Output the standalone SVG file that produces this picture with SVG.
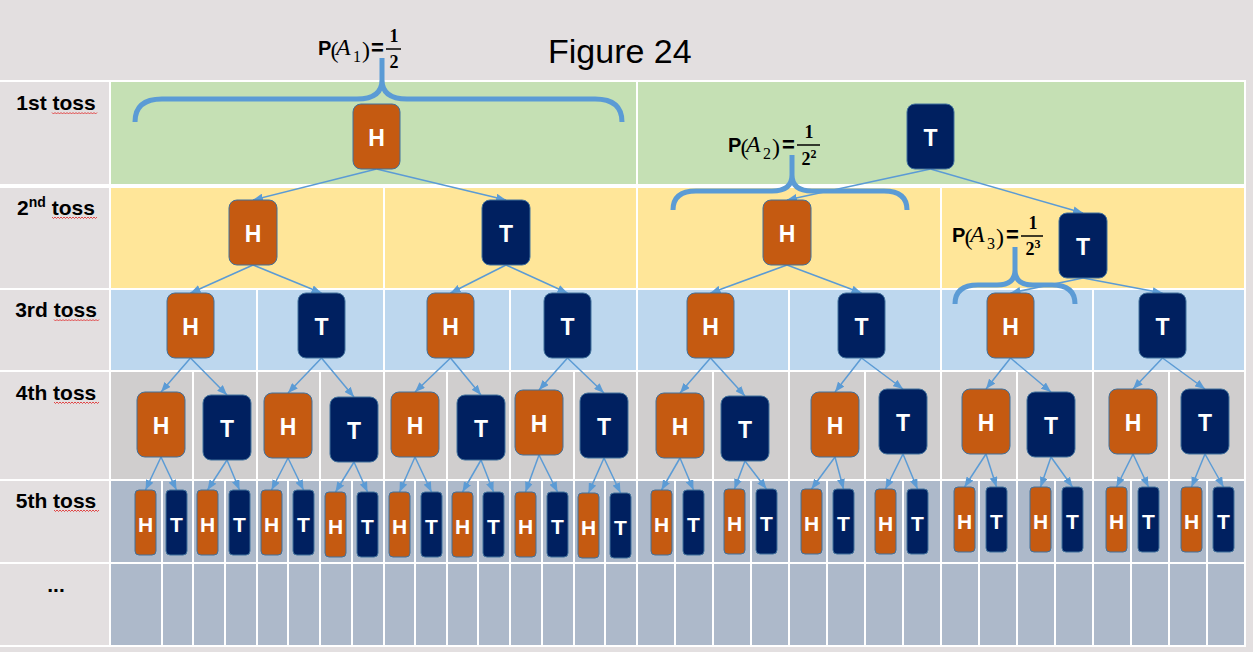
<svg xmlns="http://www.w3.org/2000/svg" xmlns:xlink="http://www.w3.org/1999/xlink" width="1253" height="652" viewBox="0 0 1253 652">
<defs>
<style>
.h{fill:#C55A11;stroke:#41719C;stroke-width:1}
.t{fill:#002060;stroke:#41719C;stroke-width:1}
.nl{font-family:"Liberation Sans",Arial,sans-serif;font-weight:bold;font-size:23px;fill:#fff;text-anchor:middle}
.nl5{font-family:"Liberation Sans",Arial,sans-serif;font-weight:bold;font-size:21px;fill:#fff;text-anchor:middle}
.lbl{font-family:"Liberation Sans",Arial,sans-serif;font-weight:bold;font-size:21px;fill:#000;text-anchor:middle}
.title{font-family:"Liberation Sans",Arial,sans-serif;font-size:34px;fill:#000}
.conn line{stroke:#5B9BD5;stroke-width:1.5;marker-end:url(#ah)}
.brace{fill:none;stroke:#5B9BD5;stroke-width:5}
.fp{font-family:"Liberation Sans",Arial,sans-serif;font-weight:bold;font-size:20px;fill:#000}
.fe{font-family:"Liberation Sans",Arial,sans-serif;font-weight:bold;font-size:22px;fill:#000}
.fs{font-family:"Liberation Serif","Times New Roman",serif;font-size:24px;fill:#000}
.fa{font-family:"Liberation Serif","Times New Roman",serif;font-style:italic;font-size:24px;fill:#000}
.fsub{font-family:"Liberation Serif","Times New Roman",serif;font-size:16px;fill:#000}
.fn{font-family:"Liberation Serif","Times New Roman",serif;font-weight:bold;font-size:18px;fill:#000;text-anchor:middle}
.grid{stroke:#fff;stroke-width:2;fill:none}
.sq{stroke:#E02020;stroke-width:0.8;fill:none}
</style>
<marker id="ah" markerUnits="userSpaceOnUse" markerWidth="10" markerHeight="8" refX="10" refY="4" orient="auto">
<path d="M0,0 L10,4 L0,8 z" fill="#5B9BD5"/>
</marker>
<path id="sq" class="sq" d="M0,0 l1.5,1.5 l1.5,-1.5 l1.5,1.5 l1.5,-1.5 l1.5,1.5 l1.5,-1.5 l1.5,1.5 l1.5,-1.5 l1.5,1.5 l1.5,-1.5 l1.5,1.5 l1.5,-1.5 l1.5,1.5 l1.5,-1.5 l1.5,1.5 l1.5,-1.5 l1.5,1.5 l1.5,-1.5 l1.5,1.5 l1.5,-1.5 l1.5,1.5 l1.5,-1.5 l1.5,1.5 l1.5,-1.5 l1.5,1.5 l1.5,-1.5 l1.5,1.5 l1.5,-1.5 l1.5,1.5 l1.5,-1.5"/>
</defs>

<!-- background and table -->
<g id="table">
<rect x="0" y="0" width="1253" height="652" fill="#E3DFE0"/>
<rect x="0" y="80" width="1246" height="567" fill="#FFFFFF"/>
<rect x="0" y="82" width="109" height="102" fill="#E3DFE0"/>
<rect x="0" y="188" width="109" height="100" fill="#E3DFE0"/>
<rect x="0" y="290" width="109" height="80" fill="#E3DFE0"/>
<rect x="0" y="372" width="109" height="107" fill="#E3DFE0"/>
<rect x="0" y="481" width="109" height="81" fill="#E3DFE0"/>
<rect x="0" y="564" width="109" height="81" fill="#E3DFE0"/>
<rect x="111" y="82" width="1133" height="102" fill="#C5E0B4"/>
<rect x="111" y="188" width="1133" height="100" fill="#FFE699"/>
<rect x="111" y="290" width="1133" height="80" fill="#BDD7EE"/>
<rect x="111" y="372" width="1133" height="107" fill="#D0CECE"/>
<rect x="111" y="481" width="1133" height="81" fill="#ADB9CA"/>
<rect x="111" y="564" width="1133" height="81" fill="#ADB9CA"/>
<path class="grid" d="M637,82V184 M384,188V288 M637,188V288 M941,188V288
M257,290V370 M384,290V370 M510,290V370 M637,290V370 M789,290V370 M941,290V370 M1093,290V370
M193,372V479 M257,372V479 M320,372V479 M384,372V479 M447,372V479 M510,372V479 M574,372V479 M637,372V479 M713,372V479 M789,372V479 M865,372V479 M941,372V479 M1017,372V479 M1093,372V479 M1169,372V479
M162,481V645 M193,481V645 M225,481V645 M257,481V645 M288,481V645 M320,481V645 M352,481V645 M384,481V645 M415,481V645 M447,481V645 M478,481V645 M510,481V645 M542,481V645 M574,481V645 M605,481V645 M637,481V645 M675,481V645 M713,481V645 M751,481V645 M789,481V645 M827,481V645 M865,481V645 M903,481V645 M941,481V645 M979,481V645 M1017,481V645 M1055,481V645 M1093,481V645 M1131,481V645 M1169,481V645 M1207,481V645"/>
</g>

<!-- row labels -->
<g id="labels">
<text class="lbl" x="56" y="110">1st toss</text>
<text class="lbl" x="56" y="215">2<tspan font-size="14" dy="-8">nd</tspan><tspan dy="8"> toss</tspan></text>
<text class="lbl" x="56" y="317">3rd toss</text>
<text class="lbl" x="56" y="400">4th toss</text>
<text class="lbl" x="56" y="508">5th toss</text>
<text class="lbl" x="56" y="592">...</text>
<use xlink:href="#sq" x="52" y="112.5"/>
<use xlink:href="#sq" x="52" y="217"/>
<use xlink:href="#sq" x="54" y="319.5"/>
<use xlink:href="#sq" x="54" y="402"/>
<use xlink:href="#sq" x="54" y="510"/>
</g>

<text id="title" class="title" x="548" y="63">Figure 24</text>

<!-- braces -->
<g id="braces">
<path class="brace" d="M135,122 Q135,99 162,99 L357,99 Q382,99 382,80 L382,58 M382,80 Q382,99 407,99 L595,99 Q622,99 622,122"/>
<path class="brace" d="M673,210 Q673,191 696,191 L772,191 Q792,191 792,175 L792,155 M792,175 Q792,191 812,191 L884,191 Q907,191 907,210"/>
<path class="brace" d="M955,304 Q955,285 978,285 L997,285 Q1015,285 1015,270 L1015,247 M1015,270 Q1015,285 1033,285 L1052,285 Q1075,285 1075,304"/>
</g>

<!-- probability formulas -->
<g id="pA1" transform="translate(318,55)">
<text class="fp" x="0" y="0">P</text>
<text class="fs" x="12.5" y="3">(</text>
<text class="fa" x="18" y="0">A</text>
<text class="fsub" x="35" y="7">1</text>
<text class="fs" x="44" y="3">)</text>
<text class="fe" x="53" y="0">=</text>
<text class="fn" x="76" y="-13">1</text>
<line x1="68" y1="-6" x2="83" y2="-6" stroke="#000" stroke-width="1.5"/>
<text class="fn" x="76" y="13">2</text>
</g>
<g id="pA2" transform="translate(728,152)">
<text class="fp" x="0" y="0">P</text>
<text class="fs" x="12.5" y="3">(</text>
<text class="fa" x="18" y="0">A</text>
<text class="fsub" x="35" y="7">2</text>
<text class="fs" x="44" y="3">)</text>
<text class="fe" x="54" y="0">=</text>
<text class="fn" x="81" y="-14">1</text>
<line x1="69" y1="-7" x2="92" y2="-7" stroke="#000" stroke-width="1.5"/>
<text class="fn" x="81" y="13">2<tspan font-size="12" dy="-7">2</tspan></text>
</g>
<g id="pA3" transform="translate(952,242)">
<text class="fp" x="0" y="0">P</text>
<text class="fs" x="12.5" y="3">(</text>
<text class="fa" x="18" y="0">A</text>
<text class="fsub" x="35" y="7">3</text>
<text class="fs" x="44" y="3">)</text>
<text class="fe" x="54" y="0">=</text>
<text class="fn" x="81" y="-13">1</text>
<line x1="69" y1="-6" x2="91" y2="-6" stroke="#000" stroke-width="1.5"/>
<text class="fn" x="81" y="13">2<tspan font-size="12" dy="-7">3</tspan></text>
</g>

<!-- connectors -->
<g id="connectors" class="conn">
<line x1="376.5" y1="169" x2="253" y2="200"/>
<line x1="376.5" y1="169" x2="506" y2="200"/>
<line x1="930.5" y1="169" x2="787" y2="200"/>
<line x1="930.5" y1="169" x2="1083" y2="213"/>
<line x1="253" y1="265" x2="190.5" y2="293"/>
<line x1="253" y1="265" x2="321.5" y2="293"/>
<line x1="506" y1="265" x2="450.5" y2="293"/>
<line x1="506" y1="265" x2="567.5" y2="293"/>
<line x1="787" y1="265" x2="710.5" y2="293"/>
<line x1="787" y1="265" x2="861.5" y2="293"/>
<line x1="1083" y1="278" x2="1010.5" y2="293"/>
<line x1="1083" y1="278" x2="1162.5" y2="293"/>
<line x1="190.5" y1="358" x2="161" y2="392"/>
<line x1="190.5" y1="358" x2="227" y2="395"/>
<line x1="321.5" y1="358" x2="288" y2="393"/>
<line x1="321.5" y1="358" x2="354" y2="397"/>
<line x1="450.5" y1="358" x2="415" y2="392"/>
<line x1="450.5" y1="358" x2="481" y2="395"/>
<line x1="567.5" y1="358" x2="539" y2="390"/>
<line x1="567.5" y1="358" x2="604" y2="393"/>
<line x1="710.5" y1="358" x2="680" y2="393"/>
<line x1="710.5" y1="358" x2="745" y2="396"/>
<line x1="861.5" y1="358" x2="835" y2="392"/>
<line x1="861.5" y1="358" x2="903" y2="389"/>
<line x1="1010.5" y1="358" x2="986" y2="389"/>
<line x1="1010.5" y1="358" x2="1051" y2="392"/>
<line x1="1162.5" y1="358" x2="1133" y2="389"/>
<line x1="1162.5" y1="358" x2="1205" y2="389"/>
<line x1="161" y1="457" x2="145.5" y2="490"/>
<line x1="161" y1="457" x2="176.5" y2="490"/>
<line x1="227" y1="460" x2="207.5" y2="490"/>
<line x1="227" y1="460" x2="239.5" y2="490"/>
<line x1="288" y1="458" x2="271.5" y2="490"/>
<line x1="288" y1="458" x2="303.5" y2="490"/>
<line x1="354" y1="462" x2="335.5" y2="492"/>
<line x1="354" y1="462" x2="367.5" y2="492"/>
<line x1="415" y1="457" x2="399.5" y2="492"/>
<line x1="415" y1="457" x2="431.5" y2="492"/>
<line x1="481" y1="460" x2="462.5" y2="492"/>
<line x1="481" y1="460" x2="493.5" y2="492"/>
<line x1="539" y1="455" x2="525.5" y2="492"/>
<line x1="539" y1="455" x2="557.5" y2="492"/>
<line x1="604" y1="458" x2="588.5" y2="493"/>
<line x1="604" y1="458" x2="620.5" y2="493"/>
<line x1="680" y1="458" x2="661.5" y2="490"/>
<line x1="680" y1="458" x2="693.5" y2="490"/>
<line x1="745" y1="461" x2="734.5" y2="489"/>
<line x1="745" y1="461" x2="766.5" y2="489"/>
<line x1="835" y1="457" x2="811.5" y2="489"/>
<line x1="835" y1="457" x2="843.5" y2="489"/>
<line x1="903" y1="454" x2="885.5" y2="489"/>
<line x1="903" y1="454" x2="917.5" y2="489"/>
<line x1="986" y1="454" x2="964.5" y2="487"/>
<line x1="986" y1="454" x2="996.5" y2="487"/>
<line x1="1051" y1="457" x2="1040.5" y2="487"/>
<line x1="1051" y1="457" x2="1072.5" y2="487"/>
<line x1="1133" y1="454" x2="1116.5" y2="487"/>
<line x1="1133" y1="454" x2="1148.5" y2="487"/>
<line x1="1205" y1="454" x2="1191.5" y2="487"/>
<line x1="1205" y1="454" x2="1223.5" y2="487"/>
</g>

<!-- row 1 -->
<g id="r1-H"><rect class="h" x="353" y="104" width="47" height="65" rx="8"/><text class="nl" x="376.5" y="145.5">H</text></g>
<g id="r1-T"><rect class="t" x="907" y="104" width="47" height="65" rx="8"/><text class="nl" x="930.5" y="145.5">T</text></g>
<!-- row 2 -->
<g id="r2-HH"><rect class="h" x="229" y="200" width="48" height="65" rx="8"/><text class="nl" x="253" y="241.5">H</text></g>
<g id="r2-HT"><rect class="t" x="482" y="200" width="48" height="65" rx="8"/><text class="nl" x="506" y="241.5">T</text></g>
<g id="r2-TH"><rect class="h" x="763" y="200" width="48" height="65" rx="8"/><text class="nl" x="787" y="241.5">H</text></g>
<g id="r2-TT"><rect class="t" x="1059" y="213" width="48" height="65" rx="8"/><text class="nl" x="1083" y="254.5">T</text></g>
<!-- row 3 -->
<g id="r3-1"><rect class="h" x="167" y="293" width="47" height="65" rx="8"/><text class="nl" x="190.5" y="334.5">H</text></g>
<g id="r3-2"><rect class="t" x="298" y="293" width="47" height="65" rx="8"/><text class="nl" x="321.5" y="334.5">T</text></g>
<g id="r3-3"><rect class="h" x="427" y="293" width="47" height="65" rx="8"/><text class="nl" x="450.5" y="334.5">H</text></g>
<g id="r3-4"><rect class="t" x="544" y="293" width="47" height="65" rx="8"/><text class="nl" x="567.5" y="334.5">T</text></g>
<g id="r3-5"><rect class="h" x="687" y="293" width="47" height="65" rx="8"/><text class="nl" x="710.5" y="334.5">H</text></g>
<g id="r3-6"><rect class="t" x="838" y="293" width="47" height="65" rx="8"/><text class="nl" x="861.5" y="334.5">T</text></g>
<g id="r3-7"><rect class="h" x="987" y="293" width="47" height="65" rx="8"/><text class="nl" x="1010.5" y="334.5">H</text></g>
<g id="r3-8"><rect class="t" x="1139" y="293" width="47" height="65" rx="8"/><text class="nl" x="1162.5" y="334.5">T</text></g>
<!-- row 4 -->
<g id="r4-1"><rect class="h" x="137" y="392" width="48" height="65" rx="8"/><text class="nl" x="161" y="433.5">H</text></g>
<g id="r4-2"><rect class="t" x="203" y="395" width="48" height="65" rx="8"/><text class="nl" x="227" y="436.5">T</text></g>
<g id="r4-3"><rect class="h" x="264" y="393" width="48" height="65" rx="8"/><text class="nl" x="288" y="434.5">H</text></g>
<g id="r4-4"><rect class="t" x="330" y="397" width="48" height="65" rx="8"/><text class="nl" x="354" y="438.5">T</text></g>
<g id="r4-5"><rect class="h" x="391" y="392" width="48" height="65" rx="8"/><text class="nl" x="415" y="433.5">H</text></g>
<g id="r4-6"><rect class="t" x="457" y="395" width="48" height="65" rx="8"/><text class="nl" x="481" y="436.5">T</text></g>
<g id="r4-7"><rect class="h" x="515" y="390" width="48" height="65" rx="8"/><text class="nl" x="539" y="431.5">H</text></g>
<g id="r4-8"><rect class="t" x="580" y="393" width="48" height="65" rx="8"/><text class="nl" x="604" y="434.5">T</text></g>
<g id="r4-9"><rect class="h" x="656" y="393" width="48" height="65" rx="8"/><text class="nl" x="680" y="434.5">H</text></g>
<g id="r4-10"><rect class="t" x="721" y="396" width="48" height="65" rx="8"/><text class="nl" x="745" y="437.5">T</text></g>
<g id="r4-11"><rect class="h" x="811" y="392" width="48" height="65" rx="8"/><text class="nl" x="835" y="433.5">H</text></g>
<g id="r4-12"><rect class="t" x="879" y="389" width="48" height="65" rx="8"/><text class="nl" x="903" y="430.5">T</text></g>
<g id="r4-13"><rect class="h" x="962" y="389" width="48" height="65" rx="8"/><text class="nl" x="986" y="430.5">H</text></g>
<g id="r4-14"><rect class="t" x="1027" y="392" width="48" height="65" rx="8"/><text class="nl" x="1051" y="433.5">T</text></g>
<g id="r4-15"><rect class="h" x="1109" y="389" width="48" height="65" rx="8"/><text class="nl" x="1133" y="430.5">H</text></g>
<g id="r4-16"><rect class="t" x="1181" y="389" width="48" height="65" rx="8"/><text class="nl" x="1205" y="430.5">T</text></g>
<!-- row 5 -->
<g id="r5-1"><rect class="h" x="135" y="490" width="21" height="65" rx="4"/><text class="nl5" x="145.5" y="531.5">H</text></g>
<g id="r5-2"><rect class="t" x="166" y="490" width="21" height="65" rx="4"/><text class="nl5" x="176.5" y="531.5">T</text></g>
<g id="r5-3"><rect class="h" x="197" y="490" width="21" height="65" rx="4"/><text class="nl5" x="207.5" y="531.5">H</text></g>
<g id="r5-4"><rect class="t" x="229" y="490" width="21" height="65" rx="4"/><text class="nl5" x="239.5" y="531.5">T</text></g>
<g id="r5-5"><rect class="h" x="261" y="490" width="21" height="65" rx="4"/><text class="nl5" x="271.5" y="531.5">H</text></g>
<g id="r5-6"><rect class="t" x="293" y="490" width="21" height="65" rx="4"/><text class="nl5" x="303.5" y="531.5">T</text></g>
<g id="r5-7"><rect class="h" x="325" y="492" width="21" height="65" rx="4"/><text class="nl5" x="335.5" y="533.5">H</text></g>
<g id="r5-8"><rect class="t" x="357" y="492" width="21" height="65" rx="4"/><text class="nl5" x="367.5" y="533.5">T</text></g>
<g id="r5-9"><rect class="h" x="389" y="492" width="21" height="65" rx="4"/><text class="nl5" x="399.5" y="533.5">H</text></g>
<g id="r5-10"><rect class="t" x="421" y="492" width="21" height="65" rx="4"/><text class="nl5" x="431.5" y="533.5">T</text></g>
<g id="r5-11"><rect class="h" x="452" y="492" width="21" height="65" rx="4"/><text class="nl5" x="462.5" y="533.5">H</text></g>
<g id="r5-12"><rect class="t" x="483" y="492" width="21" height="65" rx="4"/><text class="nl5" x="493.5" y="533.5">T</text></g>
<g id="r5-13"><rect class="h" x="515" y="492" width="21" height="65" rx="4"/><text class="nl5" x="525.5" y="533.5">H</text></g>
<g id="r5-14"><rect class="t" x="547" y="492" width="21" height="65" rx="4"/><text class="nl5" x="557.5" y="533.5">T</text></g>
<g id="r5-15"><rect class="h" x="578" y="493" width="21" height="65" rx="4"/><text class="nl5" x="588.5" y="534.5">H</text></g>
<g id="r5-16"><rect class="t" x="610" y="493" width="21" height="65" rx="4"/><text class="nl5" x="620.5" y="534.5">T</text></g>
<g id="r5-17"><rect class="h" x="651" y="490" width="21" height="65" rx="4"/><text class="nl5" x="661.5" y="531.5">H</text></g>
<g id="r5-18"><rect class="t" x="683" y="490" width="21" height="65" rx="4"/><text class="nl5" x="693.5" y="531.5">T</text></g>
<g id="r5-19"><rect class="h" x="724" y="489" width="21" height="65" rx="4"/><text class="nl5" x="734.5" y="530.5">H</text></g>
<g id="r5-20"><rect class="t" x="756" y="489" width="21" height="65" rx="4"/><text class="nl5" x="766.5" y="530.5">T</text></g>
<g id="r5-21"><rect class="h" x="801" y="489" width="21" height="65" rx="4"/><text class="nl5" x="811.5" y="530.5">H</text></g>
<g id="r5-22"><rect class="t" x="833" y="489" width="21" height="65" rx="4"/><text class="nl5" x="843.5" y="530.5">T</text></g>
<g id="r5-23"><rect class="h" x="875" y="489" width="21" height="65" rx="4"/><text class="nl5" x="885.5" y="530.5">H</text></g>
<g id="r5-24"><rect class="t" x="907" y="489" width="21" height="65" rx="4"/><text class="nl5" x="917.5" y="530.5">T</text></g>
<g id="r5-25"><rect class="h" x="954" y="487" width="21" height="65" rx="4"/><text class="nl5" x="964.5" y="528.5">H</text></g>
<g id="r5-26"><rect class="t" x="986" y="487" width="21" height="65" rx="4"/><text class="nl5" x="996.5" y="528.5">T</text></g>
<g id="r5-27"><rect class="h" x="1030" y="487" width="21" height="65" rx="4"/><text class="nl5" x="1040.5" y="528.5">H</text></g>
<g id="r5-28"><rect class="t" x="1062" y="487" width="21" height="65" rx="4"/><text class="nl5" x="1072.5" y="528.5">T</text></g>
<g id="r5-29"><rect class="h" x="1106" y="487" width="21" height="65" rx="4"/><text class="nl5" x="1116.5" y="528.5">H</text></g>
<g id="r5-30"><rect class="t" x="1138" y="487" width="21" height="65" rx="4"/><text class="nl5" x="1148.5" y="528.5">T</text></g>
<g id="r5-31"><rect class="h" x="1181" y="487" width="21" height="65" rx="4"/><text class="nl5" x="1191.5" y="528.5">H</text></g>
<g id="r5-32"><rect class="t" x="1213" y="487" width="21" height="65" rx="4"/><text class="nl5" x="1223.5" y="528.5">T</text></g>
</svg>
